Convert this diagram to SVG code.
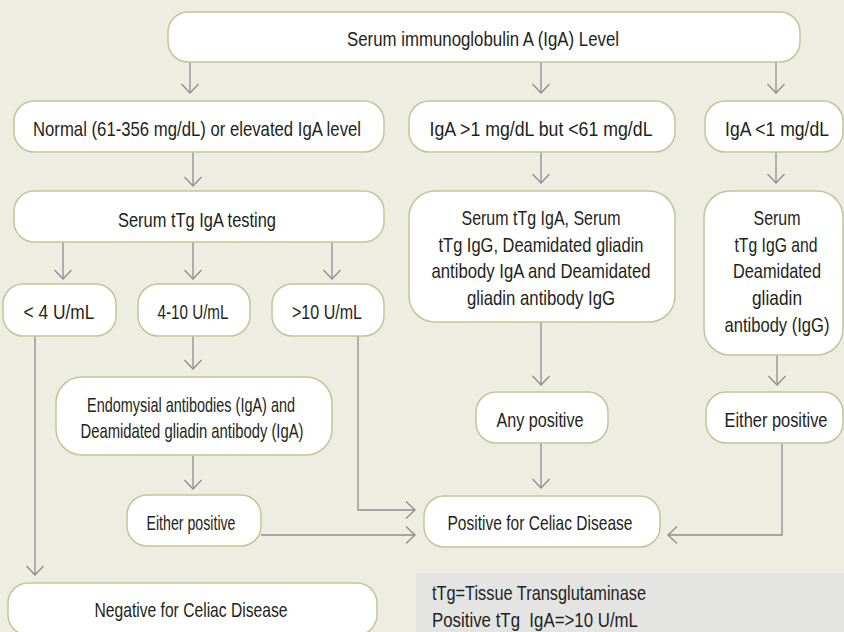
<svg xmlns="http://www.w3.org/2000/svg" width="844" height="632" viewBox="0 0 844 632">
<style>
.n{fill:#ffffff;stroke:#c3c596;stroke-width:1.5}
.t{font-family:"Liberation Sans",Arial,sans-serif;font-size:21px;fill:#231f20;text-anchor:middle}
.l{font-family:"Liberation Sans",Arial,sans-serif;font-size:21px;fill:#231f20}
.c{fill:none;stroke:#8c8c8c;stroke-width:1.3}
</style>
<defs>
<marker id="ah" markerUnits="userSpaceOnUse" markerWidth="20" markerHeight="20" viewBox="-10 -10 20 20" refX="0" refY="0" orient="auto">
<path d="M-9,-8.5 L0,0 L-9,8.5" fill="none" stroke="#8c8c8c" stroke-width="1.3"/>
</marker>
</defs>
<rect width="844" height="632" fill="#eeede2"/>
<rect x="416" y="573" width="428" height="59" fill="#e4e4e3"/>
<g id="connectors" class="c">
<path d="M190,62 V93" marker-end="url(#ah)"/>
<path d="M541,62 V93" marker-end="url(#ah)"/>
<path d="M776,62 V93" marker-end="url(#ah)"/>
<path d="M193,152 V186" marker-end="url(#ah)"/>
<path d="M541,152 V183" marker-end="url(#ah)"/>
<path d="M776,152 V183" marker-end="url(#ah)"/>
<path d="M63,242 V279" marker-end="url(#ah)"/>
<path d="M193,242 V279" marker-end="url(#ah)"/>
<path d="M332,242 V279" marker-end="url(#ah)"/>
<path d="M193,336 V369" marker-end="url(#ah)"/>
<path d="M35,336 V575" marker-end="url(#ah)"/>
<path d="M358,336 V510 H415" marker-end="url(#ah)"/>
<path d="M193,455 V489" marker-end="url(#ah)"/>
<path d="M261,535 H415" marker-end="url(#ah)"/>
<path d="M541,322 V385" marker-end="url(#ah)"/>
<path d="M777,355 V385" marker-end="url(#ah)"/>
<path d="M541,443 V488" marker-end="url(#ah)"/>
<path d="M782,443 V535 H668" marker-end="url(#ah)"/>
</g>
<g id="top"><rect class="n" x="168" y="12" width="632" height="50" rx="20"/><text class="t" x="483" y="46" textLength="272" lengthAdjust="spacingAndGlyphs">Serum immunoglobulin A (IgA) Level</text></g>
<g id="normal"><rect class="n" x="14" y="101" width="370" height="51" rx="20"/><text class="t" x="197" y="136" textLength="328" lengthAdjust="spacingAndGlyphs">Normal (61-356 mg/dL) or elevated IgA level</text></g>
<g id="low"><rect class="n" x="409" y="101" width="266" height="51" rx="20"/><text class="t" x="541" y="136" textLength="223" lengthAdjust="spacingAndGlyphs">IgA &gt;1 mg/dL but &lt;61 mg/dL</text></g>
<g id="deficient"><rect class="n" x="705" y="101" width="138" height="51" rx="20"/><text class="t" x="777" y="136" textLength="104" lengthAdjust="spacingAndGlyphs">IgA &lt;1 mg/dL</text></g>
<g id="ttg"><rect class="n" x="14" y="191" width="370" height="51" rx="20"/><text class="t" x="197" y="227" textLength="158" lengthAdjust="spacingAndGlyphs">Serum tTg IgA testing</text></g>
<g id="panel"><rect class="n" x="409" y="191" width="266" height="131" rx="26"/>
<text class="t" x="541" y="225" textLength="159" lengthAdjust="spacingAndGlyphs">Serum tTg IgA, Serum</text>
<text class="t" x="541" y="252" textLength="205" lengthAdjust="spacingAndGlyphs">tTg IgG, Deamidated gliadin</text>
<text class="t" x="541" y="278" textLength="219" lengthAdjust="spacingAndGlyphs">antibody IgA and Deamidated</text>
<text class="t" x="541" y="305" textLength="148" lengthAdjust="spacingAndGlyphs">gliadin antibody IgG</text></g>
<g id="iggpanel"><rect class="n" x="704" y="191" width="139" height="164" rx="26"/>
<text class="t" x="777" y="225" textLength="47" lengthAdjust="spacingAndGlyphs">Serum</text>
<text class="t" x="776" y="252" textLength="83" lengthAdjust="spacingAndGlyphs">tTg IgG and</text>
<text class="t" x="777" y="278" textLength="88" lengthAdjust="spacingAndGlyphs">Deamidated</text>
<text class="t" x="777" y="305" textLength="50" lengthAdjust="spacingAndGlyphs">gliadin</text>
<text class="t" x="777" y="332" textLength="105" lengthAdjust="spacingAndGlyphs">antibody (IgG)</text></g>
<g id="lt4"><rect class="n" x="3" y="284" width="113" height="52" rx="20"/><text class="t" x="59" y="319" textLength="71" lengthAdjust="spacingAndGlyphs">&lt; 4 U/mL</text></g>
<g id="r410"><rect class="n" x="138" y="284" width="112" height="52" rx="20"/><text class="t" x="193" y="319" textLength="71" lengthAdjust="spacingAndGlyphs">4-10 U/mL</text></g>
<g id="gt10"><rect class="n" x="272" y="284" width="112" height="52" rx="20"/><text class="t" x="327" y="319" textLength="70" lengthAdjust="spacingAndGlyphs">&gt;10 U/mL</text></g>
<g id="ema"><rect class="n" x="56" y="377" width="276" height="78" rx="26"/>
<text class="t" x="191" y="412" textLength="208" lengthAdjust="spacingAndGlyphs">Endomysial antibodies (IgA) and</text>
<text class="t" x="192" y="438" textLength="223" lengthAdjust="spacingAndGlyphs">Deamidated gliadin antibody (IgA)</text></g>
<g id="either1"><rect class="n" x="127" y="495" width="134" height="51" rx="20"/><text class="t" x="191" y="530" textLength="89" lengthAdjust="spacingAndGlyphs">Either positive</text></g>
<g id="any"><rect class="n" x="476" y="392" width="132" height="51" rx="20"/><text class="t" x="540" y="427" textLength="87" lengthAdjust="spacingAndGlyphs">Any positive</text></g>
<g id="either2"><rect class="n" x="706" y="392" width="137" height="51" rx="20"/><text class="t" x="776" y="427" textLength="103" lengthAdjust="spacingAndGlyphs">Either positive</text></g>
<g id="positive"><rect class="n" x="424" y="496" width="236" height="51" rx="20"/><text class="t" x="540" y="530" textLength="185" lengthAdjust="spacingAndGlyphs">Positive for Celiac Disease</text></g>
<g id="negative"><rect class="n" x="8" y="583" width="369" height="52" rx="20"/><text class="t" x="191" y="617" textLength="193" lengthAdjust="spacingAndGlyphs">Negative for Celiac Disease</text></g>
<g id="legend">
<text class="l" x="432" y="600" textLength="214" lengthAdjust="spacingAndGlyphs">tTg=Tissue Transglutaminase</text>
<text class="l" x="432" y="627" textLength="206" lengthAdjust="spacingAndGlyphs" xml:space="preserve">Positive tTg  IgA=&gt;10 U/mL</text>
</g>
</svg>
